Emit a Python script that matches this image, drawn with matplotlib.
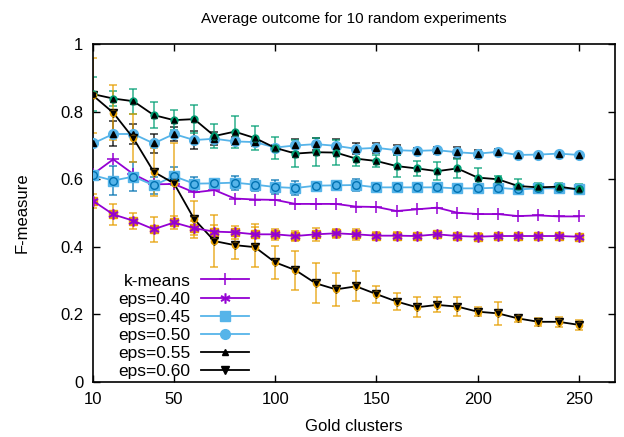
import matplotlib
matplotlib.use("Agg")
import matplotlib.pyplot as plt

plt.rcParams['font.family'] = ['Liberation Sans', 'DejaVu Sans']

gold = [10, 20, 30, 40, 50, 60, 70, 80, 90, 100, 110, 120, 130, 140, 150,
        160, 170, 180, 190, 200, 210, 220, 230, 240, 250]

kmeans = [0.615, 0.659, 0.615, 0.585, 0.586, 0.561, 0.568, 0.543, 0.540, 0.539,
          0.527, 0.527, 0.527, 0.519, 0.518, 0.506, 0.511, 0.516, 0.501, 0.497,
          0.497, 0.491, 0.493, 0.490, 0.490]

eps40 = [0.536, 0.496, 0.477, 0.452, 0.472, 0.455, 0.445, 0.443, 0.437, 0.437,
         0.432, 0.437, 0.440, 0.437, 0.433, 0.433, 0.432, 0.437, 0.432, 0.430,
         0.432, 0.432, 0.432, 0.432, 0.430]
eps40_err = [0.02, 0.032, 0.023, 0.037, 0.02, 0.02, 0.02, 0.02, 0.032, 0.017,
             0.015, 0.02, 0.014, 0.017, 0.01, 0.01, 0.01, 0.01, 0.01, 0.01,
             0.01, 0.008, 0.008, 0.008, 0.008]

eps45 = [0.612, 0.596, 0.608, 0.582, 0.609, 0.587, 0.588, 0.590, 0.584, 0.577,
         0.574, 0.581, 0.582, 0.583, 0.576, 0.576, 0.576, 0.576, 0.573, 0.573,
         0.575, 0.570, 0.573, 0.573, 0.570]
eps45_err = [0.012, 0.042, 0.042, 0.025, 0.027, 0.019, 0.014, 0.021, 0.018, 0.02,
             0.02, 0.012, 0.014, 0.017, 0.008, 0.008, 0.008, 0.008, 0.008, 0.008,
             0.008, 0.008, 0.008, 0.008, 0.008]

eps50 = [0.706, 0.734, 0.734, 0.706, 0.734, 0.716, 0.720, 0.712, 0.710, 0.694,
         0.700, 0.704, 0.699, 0.690, 0.693, 0.686, 0.684, 0.686, 0.680, 0.676,
         0.681, 0.672, 0.673, 0.676, 0.672]
eps50_err = [0.008, 0.037, 0.03, 0.027, 0.02, 0.027, 0.02, 0.012, 0.012, 0.008,
             0.02, 0.018, 0.02, 0.016, 0.015, 0.014, 0.01, 0.01, 0.016, 0.012,
             0.01, 0.005, 0.005, 0.005, 0.005]

eps55 = [0.852, 0.839, 0.831, 0.790, 0.775, 0.778, 0.728, 0.741, 0.722, 0.693,
         0.676, 0.680, 0.679, 0.661, 0.654, 0.639, 0.632, 0.624, 0.632, 0.605,
         0.600, 0.580, 0.576, 0.578, 0.570]
eps55_err = [0.05, 0.021, 0.037, 0.039, 0.030, 0.042, 0.036, 0.047, 0.036, 0.032,
             0.040, 0.041, 0.038, 0.022, 0.019, 0.032, 0.021, 0.027, 0.027, 0.027,
             0.011, 0.022, 0.013, 0.010, 0.015]

eps60 = [0.848, 0.797, 0.721, 0.622, 0.588, 0.482, 0.417, 0.405, 0.399, 0.354,
         0.331, 0.292, 0.274, 0.283, 0.260, 0.238, 0.221, 0.228, 0.223, 0.208,
         0.203, 0.188, 0.178, 0.178, 0.169]
eps60_err = [0.11, 0.081, 0.071, 0.071, 0.118, 0.055, 0.077, 0.04, 0.06, 0.049,
             0.058, 0.059, 0.049, 0.044, 0.025, 0.025, 0.029, 0.022, 0.027, 0.013,
             0.033, 0.011, 0.011, 0.015, 0.015]

labels = ['k-means', 'eps=0.40', 'eps=0.45', 'eps=0.50', 'eps=0.55', 'eps=0.60']
xticks = [10, 50, 100, 150, 200, 250]
yticks = [0, 0.2, 0.4, 0.6, 0.8, 1]
ytick_labels = ['0', '0.2', '0.4', '0.6', '0.8', '1']

PURPLE = '#9400d3'
LBLUE = '#56b4e9'
BLUE = '#0072b2'
GREEN = '#009e73'
ORANGE = '#e69f00'
BLACK = '#000000'

fig = plt.figure(figsize=(6.24, 4.37), dpi=100)
ax = fig.add_axes([0.149, 0.126, 0.837, 0.773])

lw = 1.3


def errs(y, e, color):
    ax.errorbar(gold, y, yerr=e, fmt='none', ecolor=color, elinewidth=1.2,
                capsize=3, capthick=1.2, alpha=0.75, zorder=2)


errs(eps40, eps40_err, ORANGE)
errs(eps45, eps45_err, BLUE)
errs(eps50, eps50_err, BLACK)
errs(eps55, eps55_err, GREEN)
errs(eps60, eps60_err, ORANGE)

ax.plot(gold, kmeans, color=PURPLE, lw=lw, marker='+', ms=9, mew=1.1,
        label=labels[0], zorder=3)
ax.plot(gold, eps40, color=ORANGE, lw=0, marker='s', ms=6, zorder=3)
ax.plot(gold, eps40, color=PURPLE, lw=lw, marker='$\\ast$', ms=7, mew=0.5,
        label=labels[1], zorder=4)
ax.plot(gold, eps45, color=LBLUE, lw=lw, marker='s', ms=7, label=labels[2],
        zorder=3)
ax.plot(gold, eps45, lw=0, marker='o', ms=5.5, mfc='none', mec=BLUE, mew=1.0,
        zorder=4)
ax.plot(gold, eps50, color=LBLUE, lw=lw, marker='o', ms=7, label=labels[3],
        zorder=3)
ax.plot(gold, eps50, lw=0, marker='^', ms=5, color=BLACK, zorder=4)
ax.plot(gold, eps55, color=BLACK, lw=lw, marker='^', ms=5, label=labels[4],
        zorder=3)
ax.plot(gold, eps55, lw=0, marker='o', ms=5, mfc=GREEN, mec=GREEN, zorder=4)
ax.plot(gold, eps55, lw=0, marker='^', ms=3.5, color=BLACK, zorder=5)
ax.plot(gold, eps60, color=BLACK, lw=lw, marker='v', ms=6, label=labels[5],
        zorder=3)
ax.plot(gold, eps60, lw=0, marker='o', ms=4.5, mfc=ORANGE, mec=ORANGE, zorder=4)
ax.plot(gold, eps60, lw=0, marker='v', ms=3.5, color=BLACK, zorder=5)

ax.set_xlim(10, 268)
ax.set_ylim(0, 1)
ax.set_xticks(xticks)
ax.set_yticks(yticks)
ax.set_yticklabels(ytick_labels)
ax.tick_params(direction='in', length=5, width=1, labelsize=12, pad=7,
               top=True, right=True)
for s in ax.spines.values():
    s.set_linewidth(1.2)

ax.set_xlabel('Gold clusters', fontsize=12, labelpad=9)
ax.set_ylabel('F-measure', fontsize=12, labelpad=22)
ax.set_title('Average outcome for 10 random experiments', fontsize=11, pad=15)

leg = ax.legend(loc='lower left', bbox_to_anchor=(0.035, -0.012), frameon=False,
                fontsize=12.5, markerfirst=False, handlelength=2.8,
                labelspacing=0.17, handletextpad=0.6, borderaxespad=0.0)
for t in leg.get_texts():
    t.set_ha('right')

fig.savefig('out.png', dpi=100)
